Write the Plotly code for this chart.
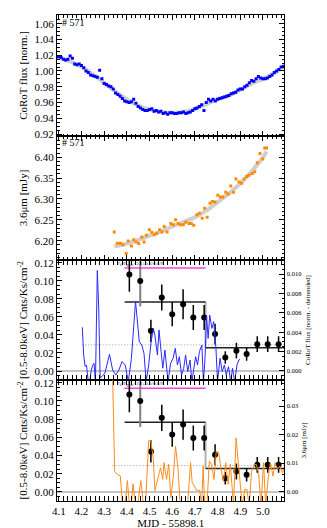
import plotly.graph_objects as go
from plotly.subplots import make_subplots

# ── Panel 1: CoRoT light curve ───────────────────────────────────────────────
corot_t = [4.09, 4.10, 4.11, 4.12, 4.13, 4.14, 4.15, 4.16, 4.17, 4.18, 4.19,
           4.20, 4.21, 4.22, 4.23, 4.24, 4.25, 4.26, 4.27, 4.28, 4.29,
           4.30, 4.31, 4.32, 4.33, 4.34, 4.35, 4.36, 4.37, 4.38, 4.39,
           4.40, 4.41, 4.42, 4.43, 4.44, 4.45, 4.46, 4.47, 4.48, 4.49,
           4.50, 4.51, 4.52, 4.53, 4.54, 4.55, 4.56, 4.57, 4.58, 4.59,
           4.60, 4.61, 4.62, 4.63, 4.64, 4.65, 4.66, 4.67, 4.68, 4.69,
           4.70, 4.71, 4.72, 4.73, 4.74, 4.75, 4.76, 4.77, 4.78, 4.79,
           4.80, 4.81, 4.82, 4.83, 4.84, 4.85, 4.86, 4.87, 4.88, 4.89,
           4.90, 4.91, 4.92, 4.93, 4.94, 4.95, 4.96, 4.97, 4.98, 4.99,
           5.00, 5.01, 5.02, 5.03, 5.04, 5.05, 5.06, 5.07, 5.08, 5.09]
corot_flux = [1.018, 1.018, 1.017, 1.015, 1.014, 1.015, 1.019, 1.016, 1.009, 1.008, 1.009,
              1.007, 1.004, 1.000, 0.998, 0.995, 0.994, 0.993, 0.992, 1.001, 0.990,
              0.984, 0.983, 0.981, 0.980, 0.977, 0.972, 0.970, 0.968, 0.965, 0.962,
              0.961, 0.960, 0.961, 0.964, 0.959, 0.955, 0.953, 0.951, 0.950, 0.950,
              0.951, 0.952, 0.949, 0.950, 0.948, 0.949, 0.946, 0.947, 0.945, 0.947,
              0.947, 0.946, 0.946, 0.947, 0.947, 0.948, 0.946, 0.947, 0.948, 0.950,
              0.952, 0.953, 0.955, 0.957, 0.950, 0.960, 0.964, 0.962, 0.964, 0.962,
              0.964, 0.965, 0.966, 0.967, 0.968, 0.969, 0.971, 0.972, 0.973, 0.976,
              0.977, 0.977, 0.980, 0.982, 0.985, 0.988, 0.987, 0.990, 0.993, 0.991,
              0.990, 0.990, 0.991, 0.993, 0.995, 0.998, 1.000, 1.002, 1.005, 1.006]
corot_fit_t = [4.09, 4.15, 4.20, 4.25, 4.30, 4.35, 4.40, 4.45, 4.50, 4.55, 4.60,
               4.65, 4.70, 4.75, 4.80, 4.85, 4.90, 4.95, 5.00, 5.05, 5.09]
corot_fit = [1.018, 1.012, 1.005, 0.996, 0.985, 0.974, 0.964, 0.956, 0.951, 0.948, 0.947,
             0.948, 0.952, 0.958, 0.964, 0.969, 0.976, 0.984, 0.990, 0.997, 1.005]

# ── Panel 2: Spitzer 3.6um ───────────────────────────────────────────────────
irac_t = [4.344, 4.358, 4.372, 4.383, 4.397, 4.406, 4.420, 4.430, 4.441, 4.452,
          4.466, 4.476, 4.486, 4.499, 4.510, 4.521, 4.532, 4.544, 4.555, 4.565,
          4.577, 4.594, 4.605, 4.615, 4.626, 4.637, 4.649, 4.660, 4.674, 4.684,
          4.695, 4.709, 4.720, 4.732, 4.743, 4.754, 4.767, 4.778, 4.789, 4.801,
          4.812, 4.823, 4.836, 4.847, 4.858, 4.870, 4.881, 4.895, 4.906, 4.917,
          4.928, 4.939, 4.953, 4.964, 4.975, 4.987, 4.999, 5.008, 5.016]
irac_flux = [6.221, 6.194, 6.194, 6.190, 6.169, 6.199, 6.187, 6.202, 6.197, 6.193,
             6.209, 6.197, 6.213, 6.226, 6.220, 6.214, 6.218, 6.226, 6.221, 6.234,
             6.221, 6.241, 6.238, 6.250, 6.241, 6.238, 6.238, 6.244, 6.241, 6.241,
             6.237, 6.262, 6.266, 6.254, 6.278, 6.256, 6.290, 6.294, 6.293, 6.309,
             6.305, 6.305, 6.316, 6.312, 6.331, 6.316, 6.348, 6.341, 6.338, 6.348,
             6.354, 6.357, 6.361, 6.365, 6.387, 6.409, 6.396, 6.422, 6.422]
irac_fit_t = [4.345, 4.40, 4.45, 4.50, 4.55, 4.60, 4.65, 4.70, 4.75, 4.80,
              4.85, 4.90, 4.95, 5.00, 5.016]
irac_fit = [6.186, 6.193, 6.202, 6.212, 6.222, 6.234, 6.245, 6.256, 6.272, 6.292,
            6.313, 6.337, 6.366, 6.400, 6.414]

# ── X-ray rate (left axis of panels 3 and 4) ─────────────────────────────────
xray_t = [4.411, 4.459, 4.506, 4.554, 4.600, 4.648, 4.693, 4.741,
          4.789, 4.834, 4.883, 4.928, 4.975, 5.021, 5.069]
xray_rate = [0.1070, 0.0998, 0.0446, 0.0814, 0.0630, 0.0740, 0.0593, 0.0593,
             0.0409, 0.0151, 0.0225, 0.0188, 0.0298, 0.0298, 0.0298]
xray_err = [0.0193, 0.0284, 0.0123, 0.0144, 0.0134, 0.0166, 0.0138, 0.0138,
            0.0116, 0.0069, 0.0087, 0.0073, 0.0086, 0.0086, 0.0086]
block_edges = [4.390, 4.747, 5.095]
block_rate = [0.0766, 0.0258]
quiescent_rate = 0.029
flare_bar_t = [4.389, 4.747]
flare_bar_rate = 0.114
flare_label = "F<sub>fl</sub>/F<sub>quies</sub>=2.1±0.3/0.6/9"

# ── Panel 3: detrended CoRoT (right axis) ────────────────────────────────────
corot_dt_t = [4.2035, 4.2097, 4.2159, 4.2223, 4.2304, 4.2366, 4.2429, 4.2491, 4.2553,
              4.2615, 4.2698, 4.2760, 4.2822, 4.3029, 4.3236, 4.3373, 4.3513, 4.3650,
              4.3787, 4.3928, 4.4064, 4.4201, 4.4383, 4.4478, 4.4549, 4.4656, 4.4756,
              4.4851, 4.4963, 4.5070, 4.5170, 4.5236, 4.5348, 4.5418, 4.5513, 4.5584,
              4.5679, 4.5762, 4.5816, 4.5928, 4.6039, 4.6135, 4.6230, 4.6313, 4.6412,
              4.6507, 4.6590, 4.6685, 4.6785, 4.6867, 4.6963, 4.7033, 4.7116, 4.7199,
              4.7306, 4.7377, 4.7447, 4.7513, 4.7584, 4.7654, 4.7750, 4.7832, 4.7928,
              4.7998, 4.8110, 4.8205, 4.8300, 4.8383, 4.8482, 4.8578, 4.8660, 4.8756,
              4.8855, 4.8938, 4.8992]
corot_dt = [0.00451, 0.00162, 0.00048, 0.00059, -0.00127, -0.00096, 0.00007, 0.00059, 0.00079,
            -0.00116, 0.01038, 0.00646, -0.00075, -0.00024, 0.00172, 0.00010, -0.00041, 0.00010,
            0.00097, 0.00062, -0.00110, 0.00131, 0.00719, 0.00440, 0.00303, 0.00268, 0.00182,
            -0.00110, 0.00062, 0.00303, 0.00440, 0.00371, 0.00165, 0.00423, 0.00200, 0.00028,
            0.00216, 0.00028, -0.00110, 0.00079, 0.00131, 0.00234, 0.00062, 0.00148, -0.00041,
            0.00028, 0.00165, -0.00006, 0.00113, -0.00110, 0.00062, 0.00148, 0.00062, 0.00200,
            0.00268, -0.00110, 0.00131, 0.00577, 0.00337, 0.00577, 0.00440, 0.00509, 0.00234,
            -0.00110, 0.00131, -0.00006, 0.00062, -0.00041, 0.00045, -0.00110, 0.00028, -0.00110,
            0.00062, 0.00113, 0.00121]

# ── Panel 4: detrended 3.6um (right axis) ────────────────────────────────────
irac_dt_t = [4.3360, 4.3464, 4.3588, 4.3712, 4.3816, 4.3919, 4.4023, 4.4106, 4.4188,
             4.4271, 4.4375, 4.4478, 4.4615, 4.4727, 4.4822, 4.4963, 4.5058, 4.5170,
             4.5236, 4.5377, 4.5484, 4.5584, 4.5638, 4.5749, 4.5845, 4.5940, 4.6052,
             4.6147, 4.6259, 4.6354, 4.6466, 4.6578, 4.6673, 4.6810, 4.6880, 4.6975,
             4.7066, 4.7211, 4.7294, 4.7364, 4.7431, 4.7530, 4.7638, 4.7737, 4.7845,
             4.7944, 4.8052, 4.8151, 4.8259, 4.8358, 4.8466, 4.8565, 4.8702, 4.8814,
             4.8909, 4.8992, 4.9087, 4.9199, 4.9294, 4.9393, 4.9501, 4.9613, 4.9708,
             4.9807, 4.9915, 5.0027, 5.0122, 5.0222, 5.0329, 5.0441, 5.0536, 5.0636,
             5.0743, 5.0855, 5.0950]
irac_dt = [0.0450, 0.0070, 0.0060, 0.0056, -0.0056, -0.0046, 0.0039, -0.0039, -0.0049,
           0.0028, -0.0042, -0.0046, 0.0039, -0.0039, -0.0046, 0.0179, 0.0179, 0.0113,
           0.0004, 0.0055, 0.0084, 0.0043, 0.0102, 0.0043, 0.0096, -0.0021, 0.0055,
           0.0160, 0.0078, -0.0049, -0.0049, -0.0046, -0.0049, 0.0102, 0.0032, 0.0020,
           0.0005, 0.0005, -0.0049, 0.0090, -0.0049, -0.0049, 0.0107, 0.0096, 0.0043,
           0.0142, 0.0137, 0.0078, 0.0037, 0.0102, 0.0026, 0.0096, -0.0049, 0.0189,
           0.0102, 0.0008, -0.0049, 0.0008, 0.0008, -0.0049, 0.0072, 0.0096, 0.0096,
           0.0067, -0.0049, 0.0102, -0.0049, 0.0043, 0.0102, 0.0055, 0.0102, 0.0078,
           0.0090, 0.0067, 0.0084]

FONT = "Liberation Serif"
XRANGE = [4.092, 5.095]

fig = make_subplots(
    rows=4, cols=1,
    shared_xaxes=True,
    vertical_spacing=0,
    specs=[[{}], [{}], [{"secondary_y": True}], [{"secondary_y": True}]],
)

# Row 1
fig.add_trace(go.Scatter(x=corot_fit_t, y=corot_fit, mode="lines", line_shape="spline",
                         line=dict(color="#cfcfcf", width=4)), row=1, col=1)
fig.add_trace(go.Scatter(x=corot_t, y=corot_flux, mode="markers",
                         marker=dict(symbol="square", size=3, color="#0000ff",
                                     line=dict(width=0))), row=1, col=1)

# Row 2
fig.add_trace(go.Scatter(x=irac_fit_t, y=irac_fit, mode="lines", line_shape="spline",
                         line=dict(color="#cfcfcf", width=4)), row=2, col=1)
fig.add_trace(go.Scatter(x=irac_t, y=irac_flux, mode="markers",
                         marker=dict(symbol="square", size=3, color="#ff8c00",
                                     line=dict(width=0))), row=2, col=1)

# Rows 3 and 4 share the X-ray overlay
for row, dt_t, dt_y, dt_color in [(3, corot_dt_t, corot_dt, "#2a2aff"),
                                   (4, irac_dt_t, irac_dt, "#ff8c1a")]:
    fig.add_trace(go.Scatter(x=XRANGE, y=[0, 0], mode="lines",
                             line=dict(color="#b0b0b0", width=1.5)), row=row, col=1)
    fig.add_trace(go.Scatter(x=[dt_t[0], XRANGE[1]], y=[quiescent_rate, quiescent_rate], mode="lines",
                             line=dict(color="#999999", width=1, dash="1px,2px")), row=row, col=1)
    fig.add_trace(go.Scatter(x=dt_t, y=dt_y, mode="lines",
                             line=dict(color=dt_color, width=1)), row=row, col=1, secondary_y=True)
    # flare bar + label
    fig.add_trace(go.Scatter(x=flare_bar_t, y=[flare_bar_rate] * 2, mode="lines",
                             line=dict(color="#ee44dd", width=1.5)), row=row, col=1)
    fig.add_annotation(x=4.347, y=flare_bar_rate, text=flare_label, showarrow=False,
                       xanchor="left", yanchor="bottom", yshift=-1,
                       font=dict(family=FONT, size=5, color="#333333"), row=row, col=1)
    # block levels
    fig.add_trace(go.Scatter(x=[block_edges[1], block_edges[1]], y=block_rate, mode="lines",
                             line=dict(color="#b0b0b0", width=2)), row=row, col=1)
    fig.add_trace(go.Scatter(x=[block_edges[0], block_edges[1], None, block_edges[1], block_edges[2]],
                             y=[block_rate[0], block_rate[0], None, block_rate[1], block_rate[1]],
                             mode="lines", line=dict(color="#222222", width=1.5)), row=row, col=1)
    # X-ray points (2nd error bar drawn grey as in the original)
    keep = [i for i in range(len(xray_t)) if i != 1]
    fig.add_trace(go.Scatter(x=[xray_t[1]], y=[xray_rate[1]], mode="markers",
                             marker=dict(color="black", size=6),
                             error_y=dict(type="data", array=[xray_err[1]], color="#808080",
                                          thickness=2, width=0)), row=row, col=1)
    fig.add_trace(go.Scatter(x=[xray_t[i] for i in keep], y=[xray_rate[i] for i in keep],
                             mode="markers", marker=dict(color="black", size=6),
                             error_y=dict(type="data", array=[xray_err[i] for i in keep],
                                          color="black", thickness=1.5, width=0)), row=row, col=1)

for row, y in [(1, 1.062), (2, 6.436)]:
    fig.add_annotation(x=4.106, y=y, text="# 571", showarrow=False, xanchor="left", yanchor="middle",
                       font=dict(family=FONT, size=10, color="black"), row=row, col=1)

# ── Layout ───────────────────────────────────────────────────────────────────
fig.update_layout(
    width=327, height=528,
    margin=dict(l=49, r=36, t=7, b=35, autoexpand=False),
    showlegend=False,
    plot_bgcolor="white", paper_bgcolor="white",
    font=dict(family=FONT, size=11, color="black"),
)

fig.update_xaxes(range=XRANGE, tick0=4.1, dtick=0.1, tickformat=".1f", ticks="inside", ticklen=5,
                 tickcolor="black", showline=True, linecolor="black", linewidth=1,
                 mirror="allticks", showgrid=False, zeroline=False, automargin=False,
                 minor=dict(ticks="inside", ticklen=2.5, dtick=0.02, tickcolor="black"))
fig.update_xaxes(title=dict(text="MJD - 55898.1", standoff=0, font=dict(size=11)),
                 tickfont=dict(size=11), row=4, col=1)

common_y = dict(ticks="inside", ticklen=5, tickcolor="black", showline=True, linecolor="black",
                linewidth=1, showgrid=False, zeroline=False, tickfont=dict(size=11),
                automargin=False)

fig.update_yaxes(range=[0.9175, 1.071], tickvals=[0.92, 0.94, 0.96, 0.98, 1.00, 1.02, 1.04, 1.06],
                 tickformat=".2f", mirror="allticks",
                 minor=dict(ticks="inside", ticklen=2.5, dtick=0.005, tickcolor="black"),
                 title=dict(text="CoRoT flux [norm.]", standoff=4, font=dict(size=11)),
                 row=1, col=1, **common_y)
fig.update_yaxes(range=[6.1537, 6.451], tickvals=[6.20, 6.25, 6.30, 6.35, 6.40],
                 tickformat=".2f", mirror="allticks",
                 minor=dict(ticks="inside", ticklen=2.5, dtick=0.01, tickcolor="black"),
                 title=dict(text="3.6μm [mJy]", standoff=4, font=dict(size=11)),
                 row=2, col=1, **common_y)
for row in (3, 4):
    fig.update_yaxes(range=[-0.0099, 0.123], dtick=0.02, tickformat=".2f", mirror=False,
                     minor=dict(ticks="inside", ticklen=2.5, dtick=0.005, tickcolor="black"),
                     title=dict(text="[0.5-8.0keV] Cnts/Ks/cm<sup>-2</sup>", standoff=4,
                                font=dict(size=11)),
                     row=row, col=1, secondary_y=False, **common_y)
fig.update_yaxes(range=[-0.00093, 0.01146], dtick=0.002, tickformat=".3f",
                 minor=dict(ticks="inside", ticklen=2.5, dtick=0.0005, tickcolor="black"),
                 title=dict(text="CoRoT flux [norm. - detrended]", standoff=3, font=dict(size=7)),
                 ticks="inside", ticklen=5, tickcolor="black", showline=True, linecolor="black",
                 linewidth=1, showgrid=False, zeroline=False, tickfont=dict(size=6.5),
                 automargin=False, row=3, col=1, secondary_y=True)
fig.update_yaxes(range=[-0.00326, 0.0392], dtick=0.01, tickformat=".2f",
                 minor=dict(ticks="inside", ticklen=2.5, dtick=0.002, tickcolor="black"),
                 title=dict(text="3.6μm [mJy]", standoff=3, font=dict(size=7)),
                 ticks="inside", ticklen=5, tickcolor="black", showline=True, linecolor="black",
                 linewidth=1, showgrid=False, zeroline=False, tickfont=dict(size=6.5),
                 automargin=False, row=4, col=1, secondary_y=True)

# panel boundaries (px 7, 128, 252, 372, 493 of a 486 px tall plot area)
fig.update_layout(
    yaxis=dict(domain=[0.751, 1.0]),
    yaxis2=dict(domain=[0.4959, 0.751]),
    yaxis3=dict(domain=[0.249, 0.4959]),
    yaxis4=dict(domain=[0.249, 0.4959]),
    yaxis5=dict(domain=[0.0, 0.249]),
    yaxis6=dict(domain=[0.0, 0.249]),
)

fig.write_html("out.html")
